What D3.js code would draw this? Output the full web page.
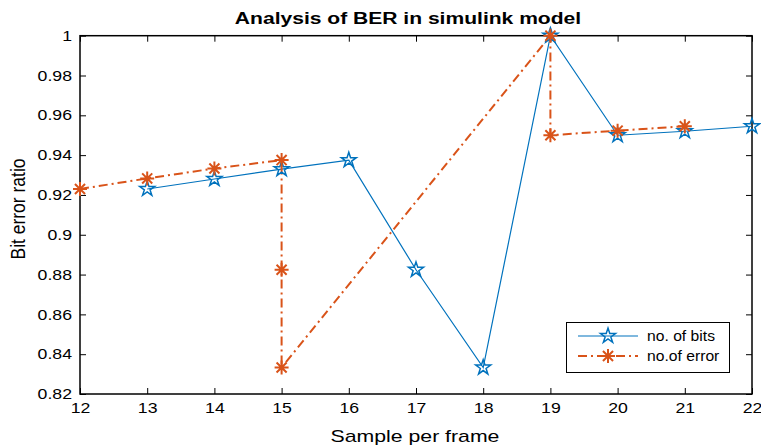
<!DOCTYPE html>
<html><head><meta charset="utf-8">
<script src="https://cdn.jsdelivr.net/npm/d3@7"></script>
<style>body{margin:0;background:#fff}svg{display:block}text{font-family:"Liberation Sans",Arial,sans-serif}</style>
</head><body><svg id="c" width="761" height="447"></svg>
<script>
const xTicks = [12,13,14,15,16,17,18,19,20,21,22];
const yTicks = [0.82,0.84,0.86,0.88,0.9,0.92,0.94,0.96,0.98,1];
const bitsX = [13,14,15,16,17,18,19,20,21,22];
const bitsY = [0.923,0.928,0.933,0.9375,0.8824,0.8333,1.0,0.95,0.952,0.9545];
const errX = [12,13,14,15,15,15,19,19,20,21];
const errY = [0.923,0.9283,0.9333,0.9375,0.8824,0.8333,1.0,0.95,0.9523,0.9545];
const seriesNames = ["no. of bits","no.of error"];
const colors = ["#0072BD","#D95319"];

const svg = d3.select("#c");
const L=80,R=752,T=35.7,B=394;
const SX=1.22;
const x = d3.scaleLinear().domain([12,22]).range([L,R]);
const y = d3.scaleLinear().domain([0.82,1]).range([B,T]);
const fmt = d => String(+d.toFixed(2));

function axis(g, gen){ g.call(gen); g.select(".domain").remove(); g.selectAll("line").attr("stroke","#000").attr("stroke-width",1); g.selectAll("text").attr("font-size",14.5).attr("fill","#000"); }
svg.append("g").attr("transform",`translate(0,${B})`).call(g=>axis(g,d3.axisBottom(x).tickValues(xTicks).tickSizeInner(-6).tickSizeOuter(0).tickPadding(9).tickFormat(d=>d)))
  .call(g=>g.selectAll("text").attr("transform",`scale(${SX},1)`));
svg.append("g").attr("transform",`translate(0,${T})`).call(g=>axis(g,d3.axisTop(x).tickValues(xTicks).tickSizeInner(-6).tickSizeOuter(0).tickFormat("")));
svg.append("g").attr("transform",`translate(${L},0)`).call(g=>axis(g,d3.axisLeft(y).tickValues(yTicks).tickSizeInner(-6).tickSizeOuter(0).tickPadding(8).tickFormat(fmt)))
  .call(g=>g.selectAll("text").attr("x",0).attr("transform",`translate(-8,0) scale(${SX},1)`));
svg.append("g").attr("transform",`translate(${R},0)`).call(g=>axis(g,d3.axisRight(y).tickValues(yTicks).tickSizeInner(-6).tickSizeOuter(0).tickFormat("")));
svg.append("rect").attr("x",L).attr("y",T).attr("width",R-L).attr("height",B-T).attr("fill","none").attr("stroke","#000").attr("stroke-width",1.5);

const line = d3.line().x(d=>x(d[0])).y(d=>y(d[1]));
const bits = bitsX.map((v,i)=>[v,bitsY[i]]);
const err = errX.map((v,i)=>[v,errY[i]]);
const dash = "9,4,2,4";

svg.append("path").datum(bits).attr("d",line).attr("fill","none").attr("stroke",colors[0]).attr("stroke-width",1.2);
svg.append("path").datum(err).attr("d",line).attr("fill","none").attr("stroke",colors[1]).attr("stroke-width",2).attr("stroke-dasharray",dash);

const star = d3.symbol().type(d3.symbolStar).size(70)();
function asterisk(g,cx,cy,r){
  const p=d3.path();
  p.moveTo(cx-r,cy);p.lineTo(cx+r,cy);
  p.moveTo(cx,cy-r);p.lineTo(cx,cy+r);
  const k=r*0.72;
  p.moveTo(cx-k,cy-k);p.lineTo(cx+k,cy+k);
  p.moveTo(cx-k,cy+k);p.lineTo(cx+k,cy-k);
  g.append("path").attr("d",p.toString()).attr("stroke",colors[1]).attr("stroke-width",2).attr("fill","none");
}
svg.selectAll(".bm").data(bits).enter().append("path").attr("d",star)
  .attr("transform",d=>`translate(${x(d[0])},${y(d[1])})`).attr("fill","none").attr("stroke",colors[0]).attr("stroke-width",1.5);
const eg = svg.append("g");
err.forEach(d=>asterisk(eg,x(d[0]),y(d[1]),7));

// legend
const lg = svg.append("g");
lg.append("rect").attr("x",566.5).attr("y",322.5).attr("width",163).attr("height",50).attr("fill","#fff").attr("stroke","#000").attr("stroke-width",1);
const ly=[336,356];
lg.append("line").attr("x1",578).attr("x2",638).attr("y1",ly[0]).attr("y2",ly[0]).attr("stroke",colors[0]).attr("stroke-width",1.2);
lg.append("path").attr("d",star).attr("transform",`translate(608,${ly[0]})`).attr("fill","none").attr("stroke",colors[0]).attr("stroke-width",1.5);
lg.append("line").attr("x1",578).attr("x2",638).attr("y1",ly[1]).attr("y2",ly[1]).attr("stroke",colors[1]).attr("stroke-width",2).attr("stroke-dasharray",dash);
asterisk(lg,608,ly[1],7);
seriesNames.forEach((n,i)=>lg.append("text").attr("transform",`translate(647,${ly[i]+5}) scale(1.12,1)`).attr("font-size",14).text(n));

svg.append("text").attr("transform","translate(408,24) scale(1.24,1)").attr("text-anchor","middle").attr("font-size",17).attr("font-weight","bold").text("Analysis of BER in simulink model");
svg.append("text").attr("transform","translate(415,442) scale(1.25,1)").attr("text-anchor","middle").attr("font-size",17).text("Sample per frame");
svg.append("text").attr("transform","translate(25,209) scale(1.2,1) rotate(-90)").attr("text-anchor","middle").attr("font-size",17.5).text("Bit error ratio");
</script></body></html>
